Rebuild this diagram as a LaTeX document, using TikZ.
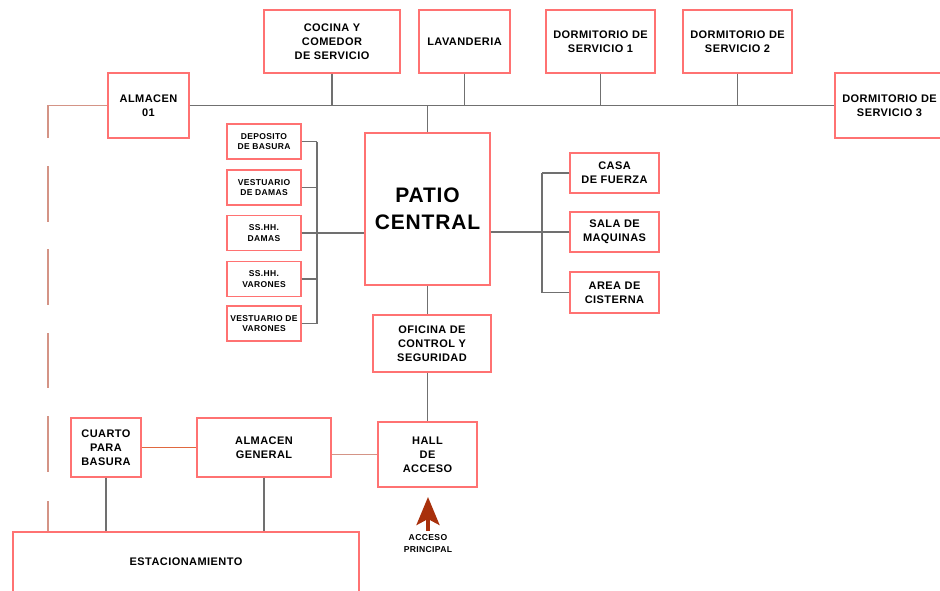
\documentclass[tikz,border=0pt]{standalone}
\usepackage{fontspec}
\setmainfont{Liberation Sans}[LetterSpace=4]
\usetikzlibrary{arrows.meta,positioning}
\definecolor{RoomRed}{HTML}{FF7272}
\definecolor{LinkGray}{HTML}{707070}
\definecolor{EdgeTan}{HTML}{D49486}
\definecolor{EdgeRust}{HTML}{E0683F}
\definecolor{AccessBrown}{HTML}{A8300C}
\begin{document}
\begin{tikzpicture}[x=1pt,y=-1pt,>=Latex]
\tikzstyle{room}=[rectangle,draw=RoomRed,line width=1.25pt,fill=white,inner sep=0pt,
                  align=center,font=\fontsize{11}{14}\selectfont\bfseries]
\tikzstyle{topbox}=[room,minimum width=109pt,minimum height=63pt]
\tikzstyle{small}=[room,minimum width=74pt,minimum height=35pt,
                   font=\fontsize{8.5}{10.5}\selectfont\bfseries]
\tikzstyle{side}=[room,minimum width=89pt,minimum height=40pt]
\tikzstyle{link}=[draw=LinkGray,line width=1.1pt]
\useasboundingbox (0,0) rectangle (940,590);
% upper row
\node[topbox,minimum width=136pt] (cocina) at (332,41.5) {COCINA Y\\COMEDOR\\DE SERVICIO};
\node[topbox,minimum width=91pt] (lava) at (464.5,41.5) {LAVANDERIA};
\node[topbox] (dorm1) at (600.5,41.5) {DORMITORIO DE\\SERVICIO 1};
\node[topbox] (dorm2) at (737.5,41.5) {DORMITORIO DE\\SERVICIO 2};
\node[topbox,minimum height=65pt] (dorm3) at (889.5,105.5) {DORMITORIO DE\\SERVICIO 3};
\node[room,minimum width=81pt,minimum height=65pt] (alm01) at (148.5,105.5) {ALMACEN\\01};
% centre
\node[room,minimum width=125pt,minimum height=152pt,
      font=\fontsize{21}{27}\selectfont\bfseries] (patio) at (427.5,209) {PATIO\\CENTRAL};
\node[small] (depo) at (264,141.5) {DEPOSITO\\DE BASURA};
\node[small] (vdam) at (264,187.5) {VESTUARIO\\DE DAMAS};
\node[small] (ssd) at (264,233) {SS.HH.\\DAMAS};
\node[small] (ssv) at (264,279) {SS.HH.\\VARONES};
\node[small] (vvar) at (264,323.5) {VESTUARIO DE\\VARONES};
\node[side] (casa) at (614.5,173) {CASA\\DE FUERZA};
\node[side] (sala) at (614.5,232) {SALA DE\\MAQUINAS};
\node[side,minimum height=41pt] (area) at (614.5,292.5) {AREA DE\\CISTERNA};
\node[room,minimum width=118pt,minimum height=57pt] (ofi) at (432,343.5) {OFICINA DE\\CONTROL Y\\SEGURIDAD};
% lower row
\node[room,minimum width=99pt,minimum height=65pt] (hall) at (427.5,454.5) {HALL\\DE\\ACCESO};
\node[room,minimum width=70pt,minimum height=59pt] (cuarto) at (106,447.5) {CUARTO\\PARA\\BASURA};
\node[room,minimum width=134pt,minimum height=59pt] (almgen) at (264,447.5) {ALMACEN\\GENERAL};
\node[room,minimum width=346pt,minimum height=60pt] (estac) at (186,562) {ESTACIONAMIENTO};
\node[font=\fontsize{8.6}{12}\selectfont\bfseries,align=center] (acclbl) at (428,544) {ACCESO\\PRINCIPAL};
\coordinate (corner) at (48,105.5);
\coordinate (lbus) at (317,0);
\coordinate (rbus) at (542,0);
\coordinate (acctail) at (428,531);
\coordinate (acctip) at (428,497);
% connectors
\draw[link] (alm01.east) -- (dorm3.west);
\foreach \n in {cocina,lava,dorm1,dorm2}
  \draw[link] (\n.south) -- (\n.south |- alm01.east);
\draw[link] (patio.north) -- (patio.north |- alm01.east);
\foreach \n in {depo,vdam,ssd,ssv,vvar}
  \draw[link] (\n.east) -- (lbus |- \n.east);
\draw[link] (lbus |- depo.east) -- (lbus |- vvar.east);
\draw[link] (ssd.east) -- (patio.west |- ssd.east);
\foreach \n in {casa,sala,area}
  \draw[link] (\n.west) -- (rbus |- \n.west);
\draw[link] (rbus |- casa.west) -- (rbus |- area.west);
\draw[link] (patio.east |- sala.west) -- (rbus |- sala.west);
\draw[link] (patio.south) -- (patio.south |- ofi.north);
\draw[link] (hall.north |- ofi.south) -- (hall.north);
\draw[EdgeRust,line width=1.1pt] (cuarto.east) -- (almgen.west);
\draw[EdgeTan,line width=1.1pt] (hall.west) -- (hall.west -| almgen.east);
\draw[link] (cuarto.south) -- (cuarto.south |- estac.north);
\draw[link] (almgen.south) -- (almgen.south |- estac.north);
\draw[EdgeTan,line width=1.1pt,
      dash pattern=on 92pt off 28pt on 56pt off 27pt on 56pt off 28pt on 55pt off 28pt on 56pt off 29pt]
  (alm01.west) -- (corner) -- (corner |- estac.north);
\draw[AccessBrown,line width=3.5pt,-{Stealth[length=28pt,width=23pt,inset=6pt]}] (acctail) -- (acctip);
\end{tikzpicture}
\end{document}
